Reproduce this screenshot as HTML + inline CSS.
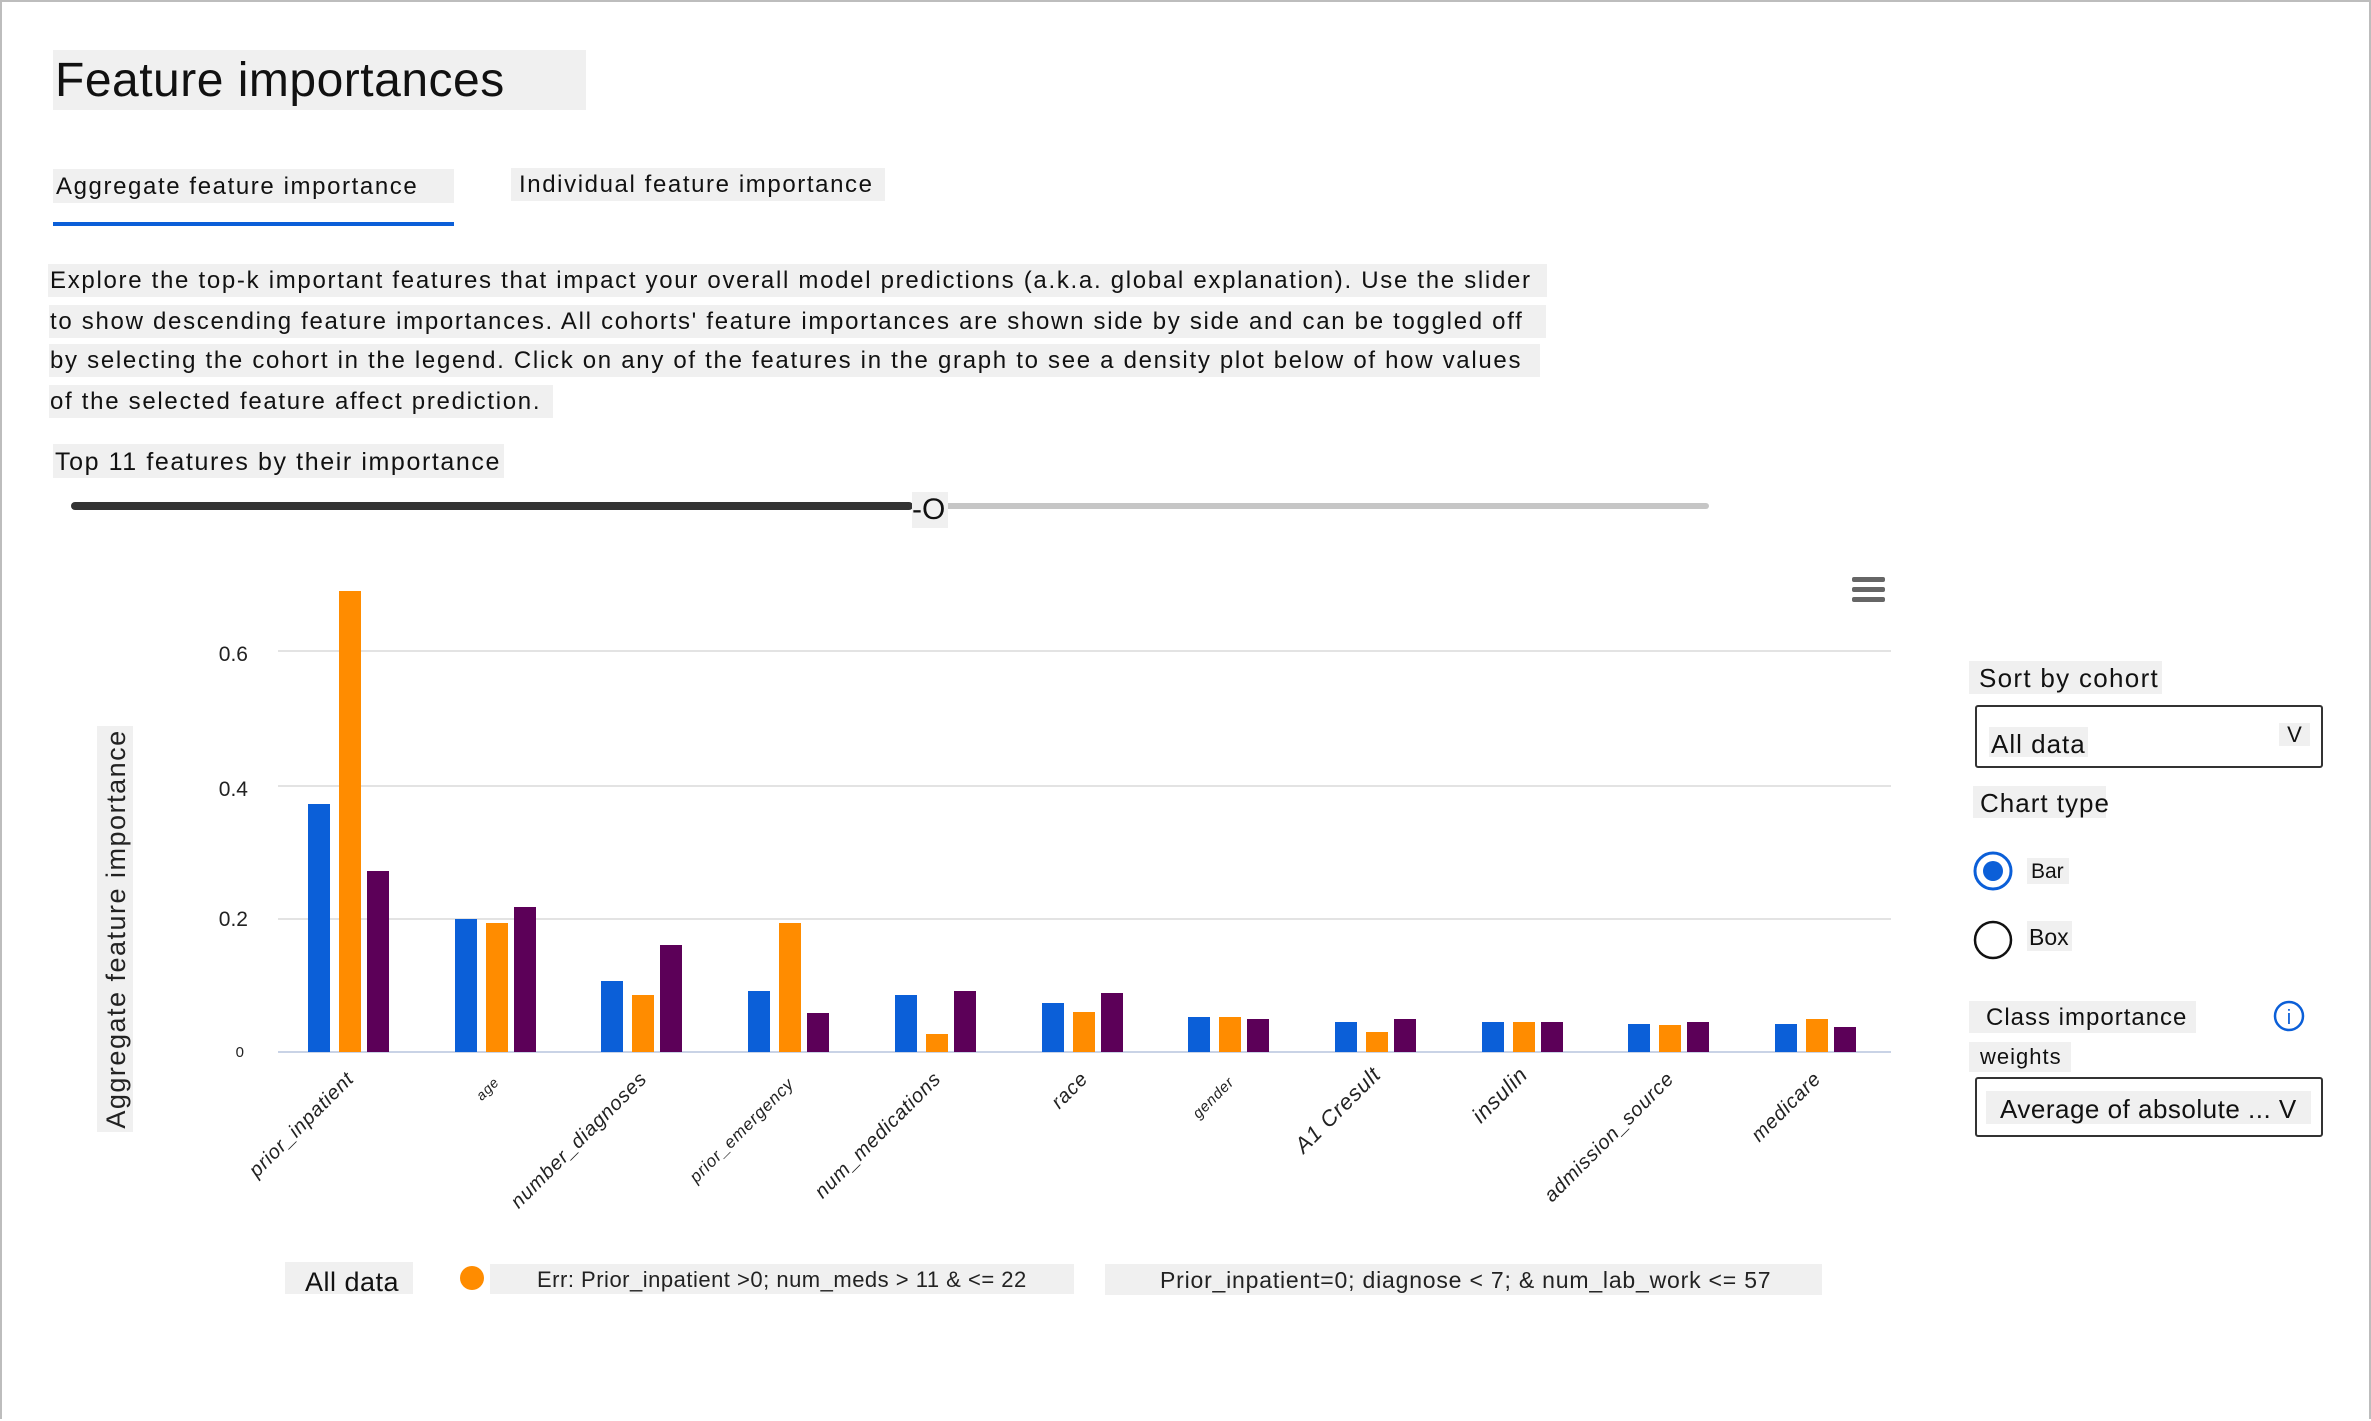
<!DOCTYPE html>
<html><head><meta charset="utf-8">
<style>
body{margin:0;width:2371px;height:1421px;background:#fff;overflow:hidden;font-family:"Liberation Sans",sans-serif;color:#111;position:relative}
.frame{position:absolute;left:0;top:0;width:2367px;height:1417px;border:2px solid #bdbdbd;border-bottom:none}
.a{position:absolute;white-space:nowrap}
.g{background:#f0f0f0}
.ls{letter-spacing:1.6px}
</style></head><body>
<div class="frame"></div>
<div class="a g" style="left:53px;top:50px;width:531px;height:60px;font-size:48px;line-height:62px;padding-left:2px;letter-spacing:0.5px">Feature importances</div>
<div class="a g ls" style="left:53px;top:169px;width:398px;height:34px;font-size:24px;line-height:36px;padding-left:3px">Aggregate feature importance</div>
<div class="a" style="left:53px;top:222px;width:401px;height:4px;background:#0b5fd8"></div>
<div class="a g ls" style="left:511px;top:168px;width:374px;height:33px;font-size:24px;line-height:33px;padding-left:8px;box-sizing:border-box">Individual feature importance</div>
<div class="a g" style="left:48px;top:264px;width:1497px;height:33px;font-size:24px;line-height:33px;padding-left:2px;letter-spacing:1.7px">Explore the top-k important features that impact your overall model predictions (a.k.a. global explanation). Use the slider</div>
<div class="a g" style="left:49px;top:305px;width:1496px;height:33px;font-size:24px;line-height:33px;padding-left:1px;letter-spacing:1.7px">to show descending feature importances. All cohorts' feature importances are shown side by side and can be toggled off</div>
<div class="a g" style="left:49px;top:344px;width:1490px;height:33px;font-size:24px;line-height:33px;padding-left:1px;letter-spacing:1.7px">by selecting the cohort in the legend. Click on any of the features in the graph to see a density plot below of how values</div>
<div class="a g" style="left:49px;top:385px;width:503px;height:33px;font-size:24px;line-height:33px;padding-left:1px;letter-spacing:1.7px">of the selected feature affect prediction.</div>
<div class="a g ls" style="left:53px;top:444px;width:449px;height:34px;font-size:25px;line-height:36px;padding-left:2px">Top 11 features by their importance</div>
<div class="a" style="left:71px;top:502px;width:842px;height:8px;background:#333;border-radius:4px"></div>
<div class="a" style="left:945px;top:503px;width:764px;height:6px;background:#c6c6c6;border-radius:3px"></div>
<div class="a g" style="left:912px;top:492px;width:36px;height:36px;font-size:30px;line-height:36px">-O</div>

<svg class="a" style="left:0;top:0" width="2371" height="1421" xmlns="http://www.w3.org/2000/svg">
<g stroke="#e3e3e3" stroke-width="2">
<line x1="278" y1="651" x2="1891" y2="651"/><line x1="278" y1="786" x2="1891" y2="786"/><line x1="278" y1="919" x2="1891" y2="919"/>
</g>
<line x1="278" y1="1052" x2="1891" y2="1052" stroke="#c9d3e6" stroke-width="2"/>
<g font-family="Liberation Sans, sans-serif" font-size="21" fill="#222" text-anchor="end">
<text x="248" y="661">0.6</text><text x="248" y="796">0.4</text><text x="248" y="926">0.2</text><text x="244" y="1057" font-size="15">0</text>
</g>
<rect x="97" y="726" width="36" height="406" fill="#f0f0f0"/>
<text transform="translate(125,929) rotate(-90)" text-anchor="middle" font-family="Liberation Sans, sans-serif" font-size="27" letter-spacing="1.5" fill="#222">Aggregate feature importance</text>
<g fill="#666"><rect x="1852" y="577" width="33" height="5" rx="2"/><rect x="1852" y="587" width="33" height="5" rx="2"/><rect x="1852" y="597" width="33" height="5" rx="2"/></g>
<g>
<rect x="308" y="804" width="22" height="248" fill="#0b5fd8"/><rect x="339" y="591" width="22" height="461" fill="#ff8c00"/><rect x="367" y="871" width="22" height="181" fill="#5c0058"/>
<rect x="455" y="919" width="22" height="133" fill="#0b5fd8"/><rect x="486" y="923" width="22" height="129" fill="#ff8c00"/><rect x="514" y="907" width="22" height="145" fill="#5c0058"/>
<rect x="601" y="981" width="22" height="71" fill="#0b5fd8"/><rect x="632" y="995" width="22" height="57" fill="#ff8c00"/><rect x="660" y="945" width="22" height="107" fill="#5c0058"/>
<rect x="748" y="991" width="22" height="61" fill="#0b5fd8"/><rect x="779" y="923" width="22" height="129" fill="#ff8c00"/><rect x="807" y="1013" width="22" height="39" fill="#5c0058"/>
<rect x="895" y="995" width="22" height="57" fill="#0b5fd8"/><rect x="926" y="1034" width="22" height="18" fill="#ff8c00"/><rect x="954" y="991" width="22" height="61" fill="#5c0058"/>
<rect x="1042" y="1003" width="22" height="49" fill="#0b5fd8"/><rect x="1073" y="1012" width="22" height="40" fill="#ff8c00"/><rect x="1101" y="993" width="22" height="59" fill="#5c0058"/>
<rect x="1188" y="1017" width="22" height="35" fill="#0b5fd8"/><rect x="1219" y="1017" width="22" height="35" fill="#ff8c00"/><rect x="1247" y="1019" width="22" height="33" fill="#5c0058"/>
<rect x="1335" y="1022" width="22" height="30" fill="#0b5fd8"/><rect x="1366" y="1032" width="22" height="20" fill="#ff8c00"/><rect x="1394" y="1019" width="22" height="33" fill="#5c0058"/>
<rect x="1482" y="1022" width="22" height="30" fill="#0b5fd8"/><rect x="1513" y="1022" width="22" height="30" fill="#ff8c00"/><rect x="1541" y="1022" width="22" height="30" fill="#5c0058"/>
<rect x="1628" y="1024" width="22" height="28" fill="#0b5fd8"/><rect x="1659" y="1025" width="22" height="27" fill="#ff8c00"/><rect x="1687" y="1022" width="22" height="30" fill="#5c0058"/>
<rect x="1775" y="1024" width="22" height="28" fill="#0b5fd8"/><rect x="1806" y="1019" width="22" height="33" fill="#ff8c00"/><rect x="1834" y="1027" width="22" height="25" fill="#5c0058"/>
</g>
<g font-family="Liberation Sans, sans-serif" font-size="20" fill="#222" text-anchor="end" font-style="italic" letter-spacing="0.8">
<text transform="translate(355,1080) rotate(-45)">prior_inpatient</text>
<text transform="translate(500,1083) rotate(-45)" font-size="14">age</text>
<text transform="translate(648,1080) rotate(-45)">number_diagnoses</text>
<text transform="translate(795,1085) rotate(-45)" font-size="17">prior_emergency</text>
<text transform="translate(942,1080) rotate(-45)">num_medications</text>
<text transform="translate(1089,1080) rotate(-45)">race</text>
<text transform="translate(1235,1083) rotate(-45)" font-size="15">gender</text>
<text transform="translate(1382,1076) rotate(-45)" font-size="22">A1 Cresult</text>
<text transform="translate(1529,1076) rotate(-45)" font-size="22">insulin</text>
<text transform="translate(1675,1080) rotate(-45)">admission_source</text>
<text transform="translate(1822,1080) rotate(-45)">medicare</text>
</g>
<rect x="285" y="1262" width="128" height="32" fill="#f0f0f0"/>
<text x="305" y="1291" font-family="Liberation Sans, sans-serif" font-size="27" fill="#111" letter-spacing="0.5">All data</text>
<circle cx="472" cy="1278" r="12" fill="#ff8c00"/>
<rect x="490" y="1264" width="584" height="30" fill="#f0f0f0"/>
<text x="537" y="1287" font-family="Liberation Sans, sans-serif" font-size="22" fill="#222" letter-spacing="0.5">Err: Prior_inpatient &gt;0; num_meds &gt; 11 &amp; &lt;= 22</text>
<rect x="1105" y="1264" width="717" height="31" fill="#f0f0f0"/>
<text x="1160" y="1288" font-family="Liberation Sans, sans-serif" font-size="23" fill="#222" letter-spacing="0.8">Prior_inpatient=0; diagnose &lt; 7; &amp; num_lab_work &lt;= 57</text>
<circle cx="1993" cy="871" r="18" fill="none" stroke="#0b5fd8" stroke-width="3"/>
<circle cx="1993" cy="871" r="10" fill="#0b5fd8"/>
<circle cx="1993" cy="940" r="18" fill="none" stroke="#111" stroke-width="2.5"/>
<circle cx="2289" cy="1016" r="14" fill="none" stroke="#0b5fd8" stroke-width="2.5"/>
<text x="2289" y="1024" text-anchor="middle" font-family="Liberation Sans, sans-serif" font-size="20" fill="#0b5fd8">i</text>
</svg>

<div class="a g" style="left:1969px;top:661px;width:193px;height:33px;font-size:26px;line-height:34px;padding-left:10px;box-sizing:border-box;letter-spacing:1.3px">Sort by cohort</div>
<div class="a" style="left:1975px;top:705px;width:348px;height:63px;border:2.5px solid #333;border-radius:3px;box-sizing:border-box"></div>
<div class="a g" style="left:1989px;top:727px;width:97px;height:30px;font-size:26px;line-height:34px;padding-left:2px;letter-spacing:1px">All data</div>
<div class="a g" style="left:2279px;top:723px;width:31px;height:23px;font-size:22px;line-height:24px;text-align:center">V</div>
<div class="a g" style="left:1973px;top:786px;width:133px;height:32px;font-size:26px;line-height:34px;padding-left:7px;box-sizing:border-box;letter-spacing:1px">Chart type</div>
<div class="a g" style="left:2027px;top:858px;width:42px;height:26px;font-size:21px;line-height:28px;padding-left:4px;box-sizing:border-box">Bar</div>
<div class="a g" style="left:2027px;top:921px;width:45px;height:30px;font-size:23px;line-height:32px;padding-left:2px;box-sizing:border-box">Box</div>
<div class="a g" style="left:1969px;top:1001px;width:227px;height:32px;font-size:24px;line-height:34px;padding-left:17px;box-sizing:border-box;letter-spacing:1px">Class importance</div>
<div class="a g" style="left:1969px;top:1042px;width:102px;height:30px;font-size:22px;line-height:30px;padding-left:11px;box-sizing:border-box;letter-spacing:1px">weights</div>
<div class="a" style="left:1975px;top:1077px;width:348px;height:60px;border:2.5px solid #333;border-radius:3px;box-sizing:border-box"></div>
<div class="a g" style="left:1986px;top:1091px;width:325px;height:33px;font-size:26px;line-height:36px;padding-left:14px;box-sizing:border-box;letter-spacing:0.5px">Average of absolute ... V</div>
</body></html>
